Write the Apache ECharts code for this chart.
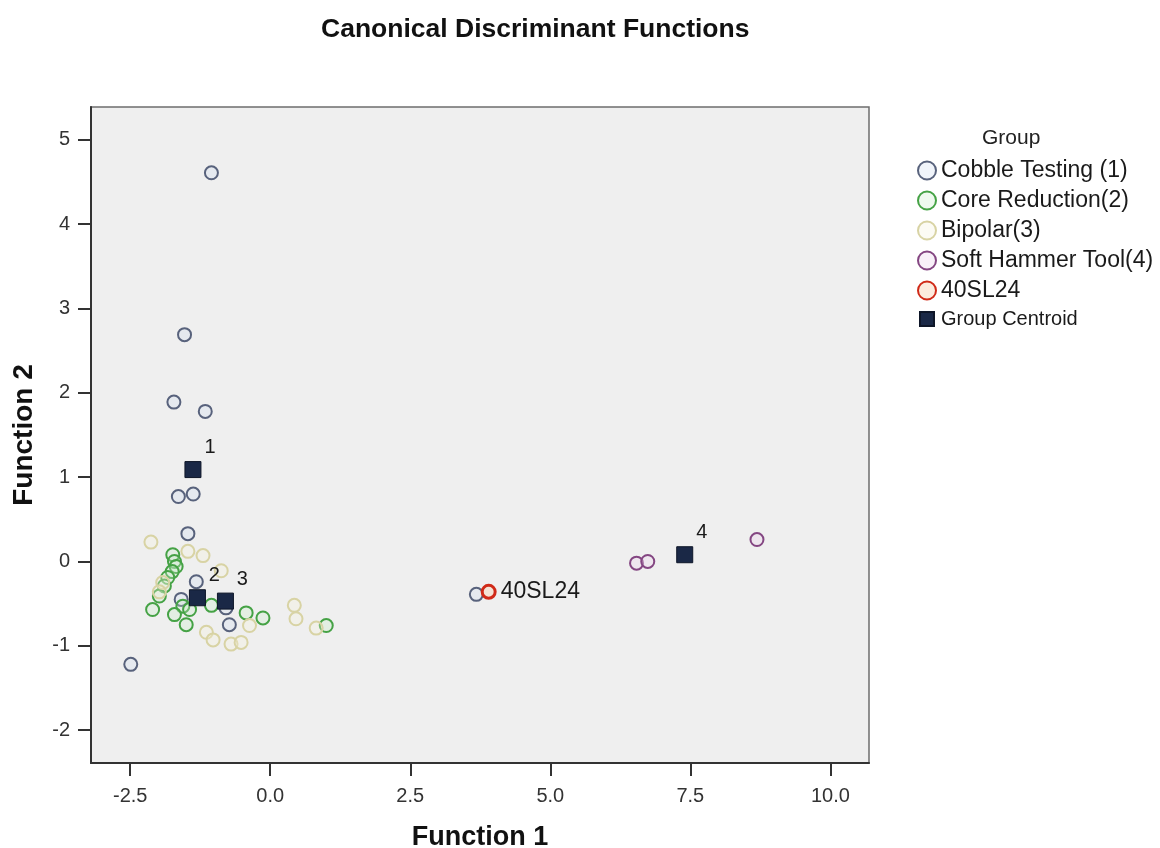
<!DOCTYPE html>
<html>
<head>
<meta charset="utf-8">
<title>Canonical Discriminant Functions</title>
<script src="https://cdn.jsdelivr.net/npm/echarts@6/dist/echarts.min.js"></script>
<style>
  html, body { margin: 0; padding: 0; background: #fff; }
  #main { width: 1160px; height: 848px; }
</style>
</head>
<body>
<div id="main"></div>
<script>
// discriminant scores [function 1, function 2]
const cobbleTesting = [
  [-1.05, 4.61], [-1.53, 2.69], [-1.72, 1.89], [-1.16, 1.78], [-1.64, 0.77],
  [-1.375, 0.80], [-1.47, 0.33], [-1.32, -0.24], [-0.73, -0.75], [-0.79, -0.55],
  [-2.49, -1.22], [-1.59, -0.45], [3.68, -0.39]
]
const coreReduction = [
  [-1.74, 0.08], [-1.71, 0.00], [-1.68, -0.06], [-1.75, -0.12], [-1.83, -0.19],
  [-1.89, -0.29], [-1.98, -0.41], [-2.10, -0.57], [-1.56, -0.53], [-1.71, -0.63],
  [-1.50, -0.75], [-1.44, -0.57], [-1.05, -0.52], [-0.43, -0.61], [-0.13, -0.67],
  [1.00, -0.76]
]
const bipolar = [
  [-2.13, 0.23], [-1.47, 0.12], [-1.20, 0.07], [-0.875, -0.11], [-1.92, -0.25],
  [-1.98, -0.36], [-1.14, -0.84], [-1.02, -0.93], [-0.70, -0.98], [-0.52, -0.96],
  [-0.37, -0.76], [0.43, -0.52], [0.46, -0.68], [0.82, -0.79]
]
const softHammerTool = [[6.54, -0.02], [6.74, 0.00], [8.69, 0.26]]
const sample40SL24 = [[3.90, -0.36]]
const centroids = [[-1.38, 1.09], [-1.30, -0.43], [-0.80, -0.47], [7.40, 0.08]]
const centroidLabels = ['1', '2', '3', '4']

const xTicks = [-2.5, 0, 2.5, 5, 7.5, 10]
const yTicks = [-2, -1, 0, 1, 2, 3, 4, 5]

const groupNames = ['Cobble Testing (1)', 'Core Reduction(2)', 'Bipolar(3)', 'Soft Hammer Tool(4)', '40SL24', 'Group Centroid']

const FONT = '"Liberation Sans", Arial, sans-serif'

function ringSeries(name, data, color, fill, width) {
  return {
    name: name,
    type: 'scatter',
    data: data,
    symbol: 'circle',
    symbolSize: 13,
    itemStyle: { color: fill, borderColor: color, borderWidth: width || 2, opacity: 1 }
  }
}

const chart = echarts.init(document.getElementById('main'))

const option = {
  animation: false,
  backgroundColor: '#ffffff',
  textStyle: { fontFamily: FONT },
  title: [
    {
      text: 'Canonical Discriminant Functions',
      left: 316, top: 11,
      textStyle: { fontFamily: FONT, fontSize: 26.5, fontWeight: 'bold', color: '#111' }
    },
    {
      text: 'Group',
      left: 977, top: 123,
      textStyle: { fontFamily: FONT, fontSize: 21, fontWeight: 'normal', color: '#222' }
    }
  ],
  legend: {
    orient: 'vertical',
    left: 912, top: 154,
    itemWidth: 18, itemHeight: 18, itemGap: 7,
    textStyle: { fontFamily: FONT, fontSize: 23, lineHeight: 23, color: '#1a1a1a' },
    data: [
      { name: groupNames[0] },
      { name: groupNames[1] },
      { name: groupNames[2] },
      { name: groupNames[3] },
      { name: groupNames[4] },
      { name: groupNames[5], icon: 'path://M0,0M2,2H16V16H2ZM18,18', textStyle: { fontSize: 20, lineHeight: 20 } }
    ]
  },
  grid: {
    left: 91, right: 291, top: 107, bottom: 85,
    outerBoundsMode: 'none',
    show: true,
    backgroundColor: '#efefef',
    borderColor: '#6e6e6e',
    borderWidth: 1.5
  },
  xAxis: {
    type: 'value',
    min: -3.2, max: 10.69,
    name: 'Function 1',
    nameLocation: 'middle',
    nameGap: 61,
    nameTextStyle: { fontFamily: FONT, fontSize: 27, fontWeight: 'bold', color: '#111' },
    axisLine: { onZero: false, lineStyle: { color: '#333', width: 2 } },
    axisTick: { show: true, length: 13, customValues: xTicks, lineStyle: { color: '#333', width: 2 } },
    axisLabel: {
      customValues: xTicks, margin: 23, fontSize: 20, color: '#333',
      formatter: v => v.toFixed(1)
    },
    splitLine: { show: false }
  },
  yAxis: {
    type: 'value',
    min: -2.39, max: 5.39,
    name: 'Function 2',
    nameLocation: 'middle',
    nameGap: 53,
    nameTextStyle: { fontFamily: FONT, fontSize: 28, fontWeight: 'bold', color: '#111' },
    axisLine: { show: true, onZero: false, lineStyle: { color: '#333', width: 2 } },
    axisTick: { show: true, length: 13, customValues: yTicks, lineStyle: { color: '#333', width: 2 } },
    axisLabel: {
      customValues: yTicks, margin: 21, fontSize: 20, color: '#333',
      formatter: v => String(v)
    },
    splitLine: { show: false }
  },
  series: [
    ringSeries(groupNames[0], cobbleTesting, '#58627c', 'rgba(205,218,238,0.3)'),
    ringSeries(groupNames[1], coreReduction, '#45a245', 'rgba(200,235,200,0.3)'),
    ringSeries(groupNames[2], bipolar, '#d8d3a4', 'rgba(245,242,220,0.3)'),
    ringSeries(groupNames[3], softHammerTool, '#844682', 'rgba(238,218,238,0.4)'),
    Object.assign(ringSeries(groupNames[4], sample40SL24, '#d02a18', 'rgba(250,215,190,0.5)', 3), {
      label: {
        show: true, position: 'right', distance: 4,
        formatter: '40SL24', fontFamily: FONT, fontSize: 23, color: '#1a1a1a'
      }
    }),
    {
      name: groupNames[5],
      type: 'scatter',
      data: centroids.map((p, i) => ({ value: p, name: centroidLabels[i] })),
      symbol: 'rect',
      symbolSize: 16,
      z: 5,
      itemStyle: { color: '#1a2846', borderColor: '#0e1628', borderWidth: 1, opacity: 1 },
      label: {
        show: true, position: 'inside', offset: [17, -22],
        formatter: '{b}', fontFamily: FONT, fontSize: 20, color: '#1a1a1a'
      }
    }
  ]
}

chart.setOption(option)
</script>
</body>
</html>
